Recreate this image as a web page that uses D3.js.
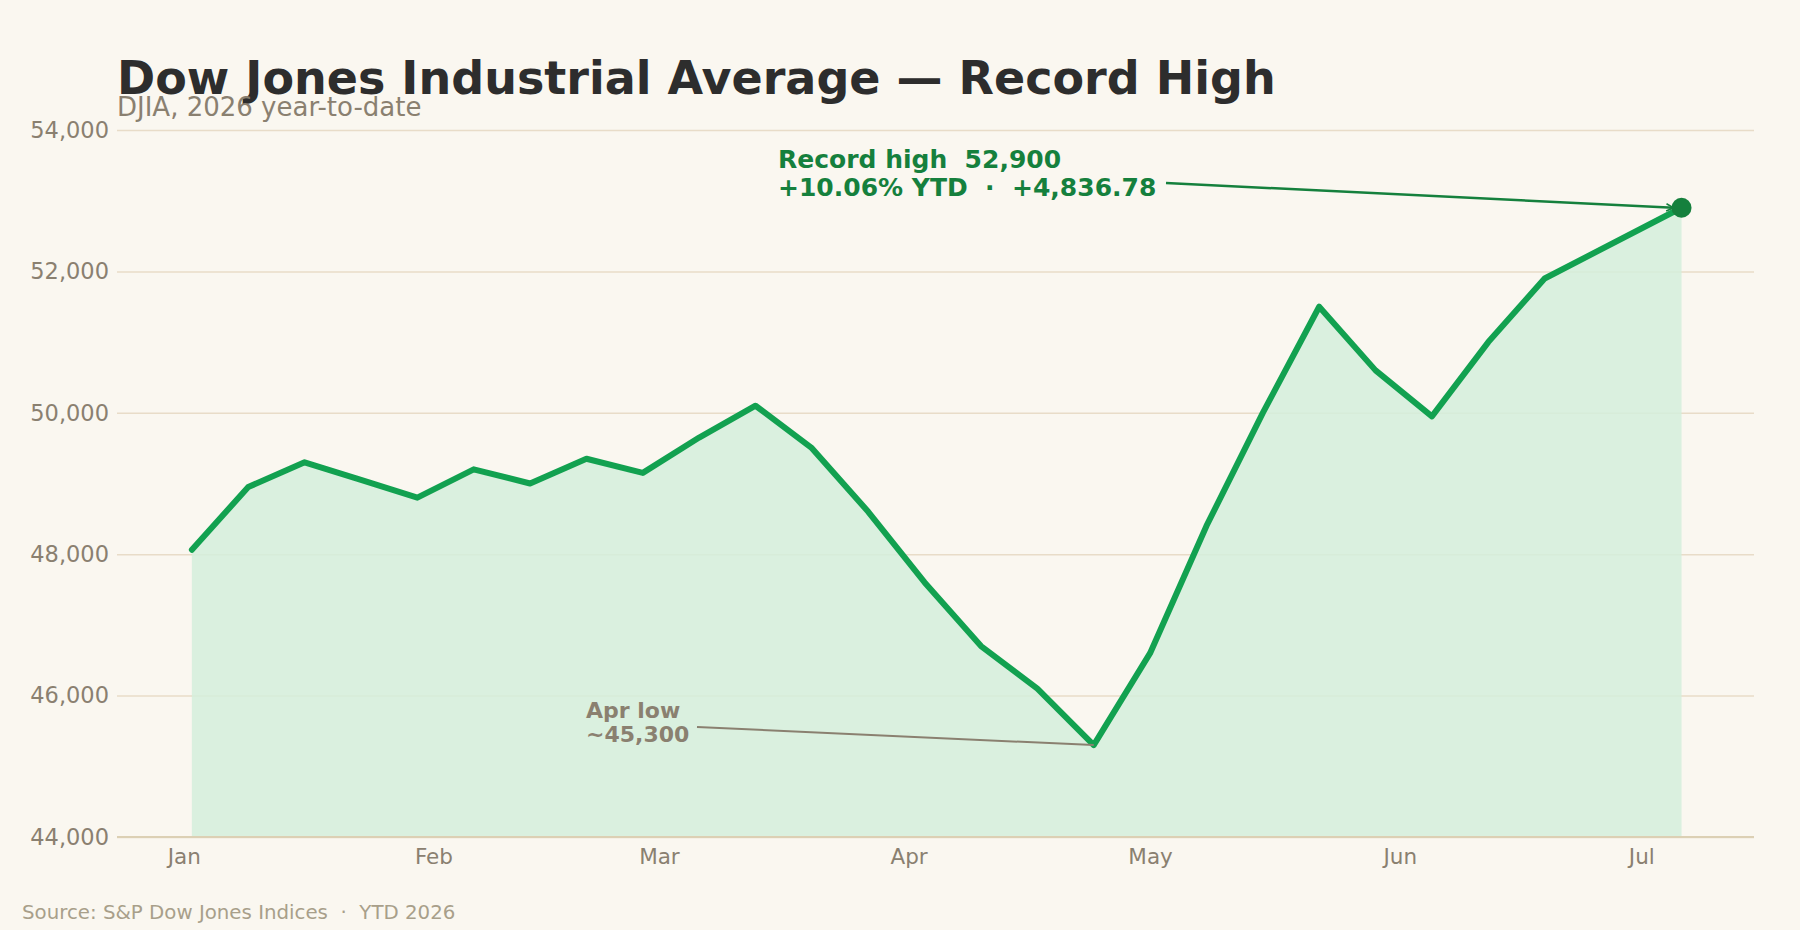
<!DOCTYPE html>
<html lang="en">
<head>
  <meta charset="UTF-8" />
  <title>DJIA 2026 YTD</title>
  <style>
    body { margin: 0; background: #faf7f0; }
    svg text { font-family: "DejaVu Sans", sans-serif; white-space: pre; }
  </style>
</head>
<body>
  <div id="chart"></div>
  <script src="https://d3js.org/d3.v7.min.js"></script>
  <script>
    // weekly closes
    var dates = ["2026-01-02", "2026-01-09", "2026-01-16", "2026-01-23", "2026-01-30",
      "2026-02-06", "2026-02-13", "2026-02-20", "2026-02-27",
      "2026-03-06", "2026-03-13", "2026-03-20", "2026-03-27",
      "2026-04-03", "2026-04-10", "2026-04-17", "2026-04-24",
      "2026-05-01", "2026-05-08", "2026-05-15", "2026-05-22", "2026-05-29",
      "2026-06-05", "2026-06-12", "2026-06-19", "2026-07-06"]
    var values = [48063.22, 48950, 49300, 49050, 48800,
      49200, 49000, 49350, 49150,
      49650, 50100, 49500, 48600,
      47600, 46700, 46100, 45300,
      46600, 48400, 50000, 51500, 50600,
      49950, 51000, 51900, 52900]
    var yTicks = [44000, 46000, 48000, 50000, 52000, 54000]
    var monthTicks = ["2026-01-01", "2026-02-01", "2026-03-01", "2026-04-01", "2026-05-01", "2026-06-01", "2026-07-01"]
    var monthLabels = ["Jan", "Feb", "Mar", "Apr", "May", "Jun", "Jul"]

    var parse = d3.utcParse("%Y-%m-%d")
    var data = dates.map(function (d, i) { return { date: parse(d), value: values[i] } })

    var width = 1800, height = 930
    var mLeft = 117, mRight = 1754, mTop = 130, mBottom = 837

    var svg = d3.select("#chart").append("svg")
      .attr("width", width)
      .attr("height", height)
      .style("display", "block")

    svg.append("rect").attr("width", width).attr("height", height).attr("fill", "#faf7f0")

    var day = 864e5
    var x = d3.scaleUtc()
      .domain([+data[0].date - 9.3 * day, +data[data.length - 1].date + 9.0 * day])
      .range([mLeft, mRight])

    var y = d3.scaleLinear()
      .domain([44000, 54000])
      .range([mBottom, mTop])

    // grid + y axis
    var yAxis = svg.append("g")
      .attr("transform", "translate(" + mLeft + ",0)")
      .call(d3.axisLeft(y).tickValues(yTicks).tickSize(-(mRight - mLeft)).tickPadding(8)
        .tickFormat(d3.format(",")))
    yAxis.select(".domain").remove()
    yAxis.selectAll(".tick line").attr("stroke", "#e8dcc8").attr("stroke-width", 1.5)
    yAxis.selectAll(".tick text").attr("fill", "#8a8070").attr("font-size", 22.5)

    // area + line
    var area = d3.area()
      .x(function (d) { return x(d.date) })
      .y0(y(44000))
      .y1(function (d) { return y(d.value) })
    svg.append("path").datum(data)
      .attr("d", area)
      .attr("fill", "#d4eedc")
      .attr("opacity", 0.85)

    var line = d3.line()
      .x(function (d) { return x(d.date) })
      .y(function (d) { return y(d.value) })
    svg.append("path").datum(data)
      .attr("d", line)
      .attr("fill", "none")
      .attr("stroke", "#12a150")
      .attr("stroke-width", 6)
      .attr("stroke-linejoin", "round")
      .attr("stroke-linecap", "round")

    // x axis
    var xAxis = svg.append("g")
      .attr("transform", "translate(0," + mBottom + ")")
      .call(d3.axisBottom(x).tickValues(monthTicks.map(parse)).tickSize(0).tickPadding(12)
        .tickFormat(function (d, i) { return monthLabels[i] }))
    xAxis.select(".domain").remove()
    xAxis.selectAll(".tick text").attr("fill", "#8a8070").attr("font-size", 21.5)
    svg.append("line")
      .attr("x1", mLeft).attr("x2", mRight)
      .attr("y1", mBottom).attr("y2", mBottom)
      .attr("stroke", "#dcd0b4").attr("stroke-width", 2)

    // record high annotation
    var last = data[data.length - 1]
    var low = data[16]
    var defs = svg.append("defs")
    defs.append("marker")
      .attr("id", "arrow")
      .attr("viewBox", "0 0 10 10")
      .attr("refX", 9).attr("refY", 5)
      .attr("markerWidth", 9).attr("markerHeight", 9)
      .attr("markerUnits", "userSpaceOnUse")
      .attr("orient", "auto")
      .append("path")
      .attr("d", "M1,1 L9,5 L1,9")
      .attr("fill", "none")
      .attr("stroke", "#15803d")
      .attr("stroke-width", 1.8)

    svg.append("line")
      .attr("x1", 1166).attr("y1", 183)
      .attr("x2", x(last.date) - 8).attr("y2", y(last.value))
      .attr("stroke", "#15803d").attr("stroke-width", 2.5)
      .attr("marker-end", "url(#arrow)")

    svg.append("circle")
      .attr("cx", x(last.date)).attr("cy", y(last.value))
      .attr("r", 10)
      .attr("fill", "#15803d")

    var hi = svg.append("text")
      .attr("x", 778).attr("y", 168)
      .attr("fill", "#15803d").attr("font-size", 25).attr("font-weight", "bold")
    hi.append("tspan").attr("x", 778).text("Record high  52,900")
    hi.append("tspan").attr("x", 778).attr("dy", 28).text("+10.06% YTD  ·  +4,836.78")

    // april low annotation
    svg.append("line")
      .attr("x1", 697).attr("y1", 727)
      .attr("x2", x(low.date)).attr("y2", y(low.value))
      .attr("stroke", "#8a8070").attr("stroke-width", 2)

    var lo = svg.append("text")
      .attr("x", 586).attr("y", 718)
      .attr("fill", "#8a8070").attr("font-size", 22).attr("font-weight", "bold")
    lo.append("tspan").attr("x", 586).text("Apr low")
    lo.append("tspan").attr("x", 586).attr("dy", 24).text("~45,300")

    // titles
    svg.append("text")
      .attr("x", 117).attr("y", 94)
      .attr("fill", "#2d2d2d").attr("font-size", 46).attr("font-weight", "bold")
      .text("Dow Jones Industrial Average — Record High")
    svg.append("text")
      .attr("x", 117).attr("y", 116)
      .attr("fill", "#8a8070").attr("font-size", 26)
      .text("DJIA, 2026 year-to-date")
    svg.append("text")
      .attr("x", 22).attr("y", 919)
      .attr("fill", "#a89f8a").attr("font-size", 19.8)
      .text("Source: S&P Dow Jones Indices  ·  YTD 2026")
  </script>
</body>
</html>
